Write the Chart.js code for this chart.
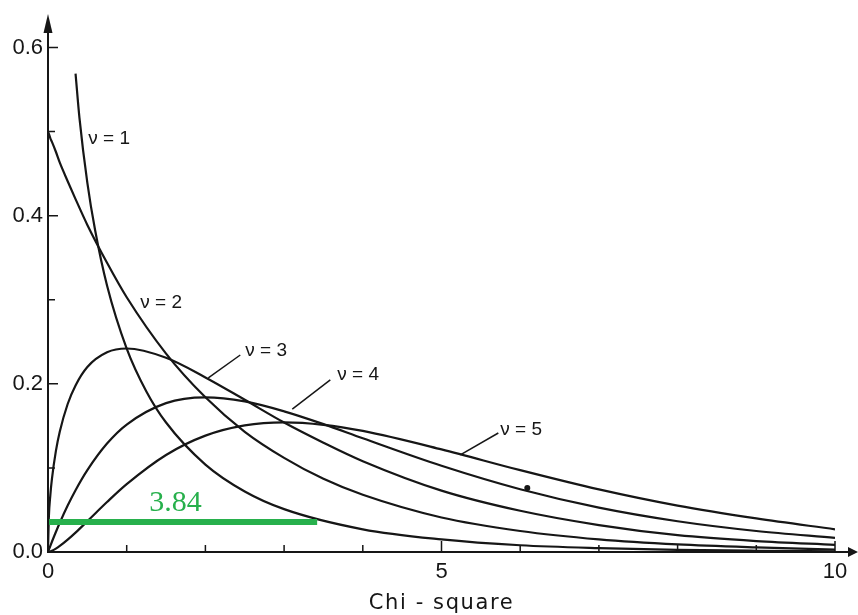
<!DOCTYPE html>
<html>
<head>
<meta charset="utf-8">
<script src="https://cdn.jsdelivr.net/npm/chart.js@4.4.1/dist/chart.umd.min.js"></script>
<style>
  html, body { margin: 0; background: #fff; }
  canvas { display: block; }
</style>
</head>
<body>
<canvas id="chi" width="858" height="615"></canvas>
<script>
/* Chi-square densities */

// shared x grid for nu = 2..5 (denser near 0 where nu = 3 rises steeply)
const gridX = [0, 0.01, 0.03, 0.05, 0.1, 0.15, 0.25, 0.35, 0.5, 0.75, 1, 1.5, 2, 2.5, 3, 3.5, 4, 5, 6, 7, 8, 9, 10];
const nu2 = [0.5, 0.4975, 0.492, 0.4877, 0.476, 0.463, 0.441, 0.4197, 0.389, 0.344, 0.303, 0.236, 0.184, 0.143, 0.112, 0.087, 0.068, 0.041, 0.025, 0.015, 0.009, 0.0055, 0.003];
const nu3 = [0, 0.0397, 0.068, 0.087, 0.120, 0.1433, 0.176, 0.1981, 0.220, 0.2375, 0.242, 0.231, 0.2076, 0.181, 0.154, 0.130, 0.108, 0.073, 0.049, 0.032, 0.020, 0.013, 0.0085];
const nu4 = [0, 0.0025, 0.0074, 0.0122, 0.0238, 0.0348, 0.0552, 0.0735, 0.0974, 0.129, 0.1516, 0.1771, 0.1839, 0.1791, 0.1673, 0.1521, 0.1353, 0.1026, 0.0747, 0.0528, 0.0366, 0.025, 0.0168];
const nu5 = [0, 0.0001, 0.0007, 0.0014, 0.004, 0.0072, 0.0147, 0.0231, 0.0366, 0.0594, 0.0807, 0.1154, 0.1384, 0.1506, 0.1542, 0.1513, 0.144, 0.122, 0.0973, 0.0744, 0.0551, 0.0399, 0.027];

// nu = 1 starts off the top of the frame
const nu1X = [0.35, 0.4, 0.5, 0.6, 0.75, 1, 1.25, 1.5, 2, 2.5, 3, 4, 5, 6, 7, 8, 9, 10];
const nu1 = [0.569, 0.516, 0.439, 0.382, 0.317, 0.242, 0.191, 0.154, 0.104, 0.072, 0.051, 0.027, 0.015, 0.008, 0.0046, 0.0026, 0.0015, 0.0008];

// green marker bar and stray dot on the scan
const barX = [0, 3.42];
const barY = [0.0357, 0.0357];
const dotX = [6.09];
const dotY = [0.076];

// tick labels
const xLabelAt = [0, 5, 10];
const yLabelAt = [0, 0.2, 0.4, 0.6];

const INK = '#161616';
const GREEN = '#27b04c';

function pts(xs, ys) {
  return xs.map(function (v, i) { return { x: v, y: ys[i] }; });
}

function curve(ys, xs) {
  return {
    data: pts(xs || gridX, ys),
    borderColor: INK,
    borderWidth: 2.2,
    pointRadius: 0,
    cubicInterpolationMode: 'monotone',
    fill: false,
    order: 2,
  };
}

/* labels and leader lines, in data units */
const curveNotes = [
  { text: 'ν = 1', x: 0.512, y: 0.492 },
  { text: 'ν = 2', x: 1.173, y: 0.296 },
  { text: 'ν = 3', x: 2.507, y: 0.239, lead: [2.443, 0.2343, 2.037, 0.207] },
  { text: 'ν = 4', x: 3.676, y: 0.2105, lead: [3.587, 0.2046, 3.104, 0.170] },
  { text: 'ν = 5', x: 5.747, y: 0.145, lead: [5.722, 0.1415, 5.239, 0.1154] },
];

const decor = {
  id: 'decor',
  afterDatasetsDraw(chart) {
    const ctx = chart.ctx;
    const x = chart.scales.x, y = chart.scales.y;
    const x0 = x.getPixelForValue(0), y0 = y.getPixelForValue(0);
    const W = chart.width;

    ctx.save();
    ctx.strokeStyle = INK;
    ctx.fillStyle = INK;

    // axes with arrow heads
    ctx.lineWidth = 2;
    ctx.beginPath();
    ctx.moveTo(x0, y0); ctx.lineTo(W - 8, y0);
    ctx.moveTo(x0, y0 + 1); ctx.lineTo(x0, 30);
    ctx.stroke();
    ctx.beginPath();
    ctx.moveTo(W, y0); ctx.lineTo(W - 10, y0 - 5); ctx.lineTo(W - 10, y0 + 5);
    ctx.closePath(); ctx.fill();
    ctx.beginPath();
    ctx.moveTo(x0, 14); ctx.lineTo(x0 - 4.5, 33); ctx.lineTo(x0 + 4.5, 33);
    ctx.closePath(); ctx.fill();

    // inward tick marks
    ctx.lineWidth = 1.5;
    ctx.beginPath();
    x.ticks.forEach(function (t) {
      if (t.value === 0) return;
      const px = x.getPixelForValue(t.value);
      const len = t.value % 5 === 0 ? 11 : 7;
      ctx.moveTo(px, y0); ctx.lineTo(px, y0 - len);
    });
    y.ticks.forEach(function (t) {
      if (t.value === 0) return;
      const py = y.getPixelForValue(t.value);
      const major = yLabelAt.some(function (v) { return Math.abs(v - t.value) < 1e-9; });
      ctx.moveTo(x0, py); ctx.lineTo(x0 + (major ? 10 : 7), py);
    });
    ctx.stroke();

    // curve labels
    ctx.font = '19px "Liberation Sans", Arial, sans-serif';
    ctx.textAlign = 'left';
    ctx.textBaseline = 'middle';
    ctx.lineWidth = 1.5;
    curveNotes.forEach(function (n) {
      ctx.fillText(n.text, x.getPixelForValue(n.x), y.getPixelForValue(n.y));
      if (n.lead) {
        ctx.beginPath();
        ctx.moveTo(x.getPixelForValue(n.lead[0]), y.getPixelForValue(n.lead[1]));
        ctx.lineTo(x.getPixelForValue(n.lead[2]), y.getPixelForValue(n.lead[3]));
        ctx.stroke();
      }
    });

    // green critical value text
    ctx.fillStyle = GREEN;
    ctx.font = '30px "Liberation Serif", "Times New Roman", serif';
    ctx.textAlign = 'center';
    ctx.fillText('3.84', x.getPixelForValue(1.62), y.getPixelForValue(0.058));

    // axis title
    ctx.fillStyle = INK;
    ctx.font = '21px "DejaVu Sans", sans-serif';
    ctx.letterSpacing = '1.6px';
    ctx.textBaseline = 'middle';
    ctx.fillText('Chi - square', (chart.chartArea.left + chart.chartArea.right) / 2, 604);
    ctx.restore();
  },
};

document.addEventListener('DOMContentLoaded', function () {
  new Chart(document.getElementById('chi'), {
    type: 'line',
    data: {
      datasets: [
        curve(nu1, nu1X),
        curve(nu2),
        curve(nu3),
        curve(nu4),
        curve(nu5),
        {
          data: pts(barX, barY),
          borderColor: GREEN,
          borderWidth: 6,
          pointRadius: 0,
          order: 0,
        },
        {
          data: pts(dotX, dotY),
          showLine: false,
          pointRadius: 3,
          pointBackgroundColor: INK,
          pointBorderWidth: 0,
          order: 1,
        },
      ],
    },
    options: {
      responsive: false,
      animation: false,
      devicePixelRatio: 1,
      layout: { padding: { left: 0, right: 23, top: 47.5, bottom: 0 } },
      plugins: { legend: { display: false }, tooltip: { enabled: false } },
      scales: {
        x: {
          type: 'linear',
          min: 0,
          max: 10,
          afterFit: function (s) { s.height = 63; },
          grid: { display: false, drawTicks: false },
          border: { display: false },
          ticks: {
            stepSize: 1,
            autoSkip: false,
            maxRotation: 0,
            padding: 7,
            color: INK,
            font: { family: '"Liberation Sans", Arial, sans-serif', size: 22 },
            callback: function (v) { return xLabelAt.indexOf(v) >= 0 ? String(v) : ''; },
          },
        },
        y: {
          min: 0,
          max: 0.6,
          afterFit: function (s) { s.width = 48; },
          grid: { display: false, drawTicks: false },
          border: { display: false },
          ticks: {
            stepSize: 0.1,
            autoSkip: false,
            padding: 5,
            color: INK,
            font: { family: '"Liberation Sans", Arial, sans-serif', size: 22 },
            callback: function (v) {
              return yLabelAt.some(function (t) { return Math.abs(t - v) < 1e-9; }) ? v.toFixed(1) : '';
            },
          },
        },
      },
    },
    plugins: [decor],
  });
});
</script>
</body>
</html>
